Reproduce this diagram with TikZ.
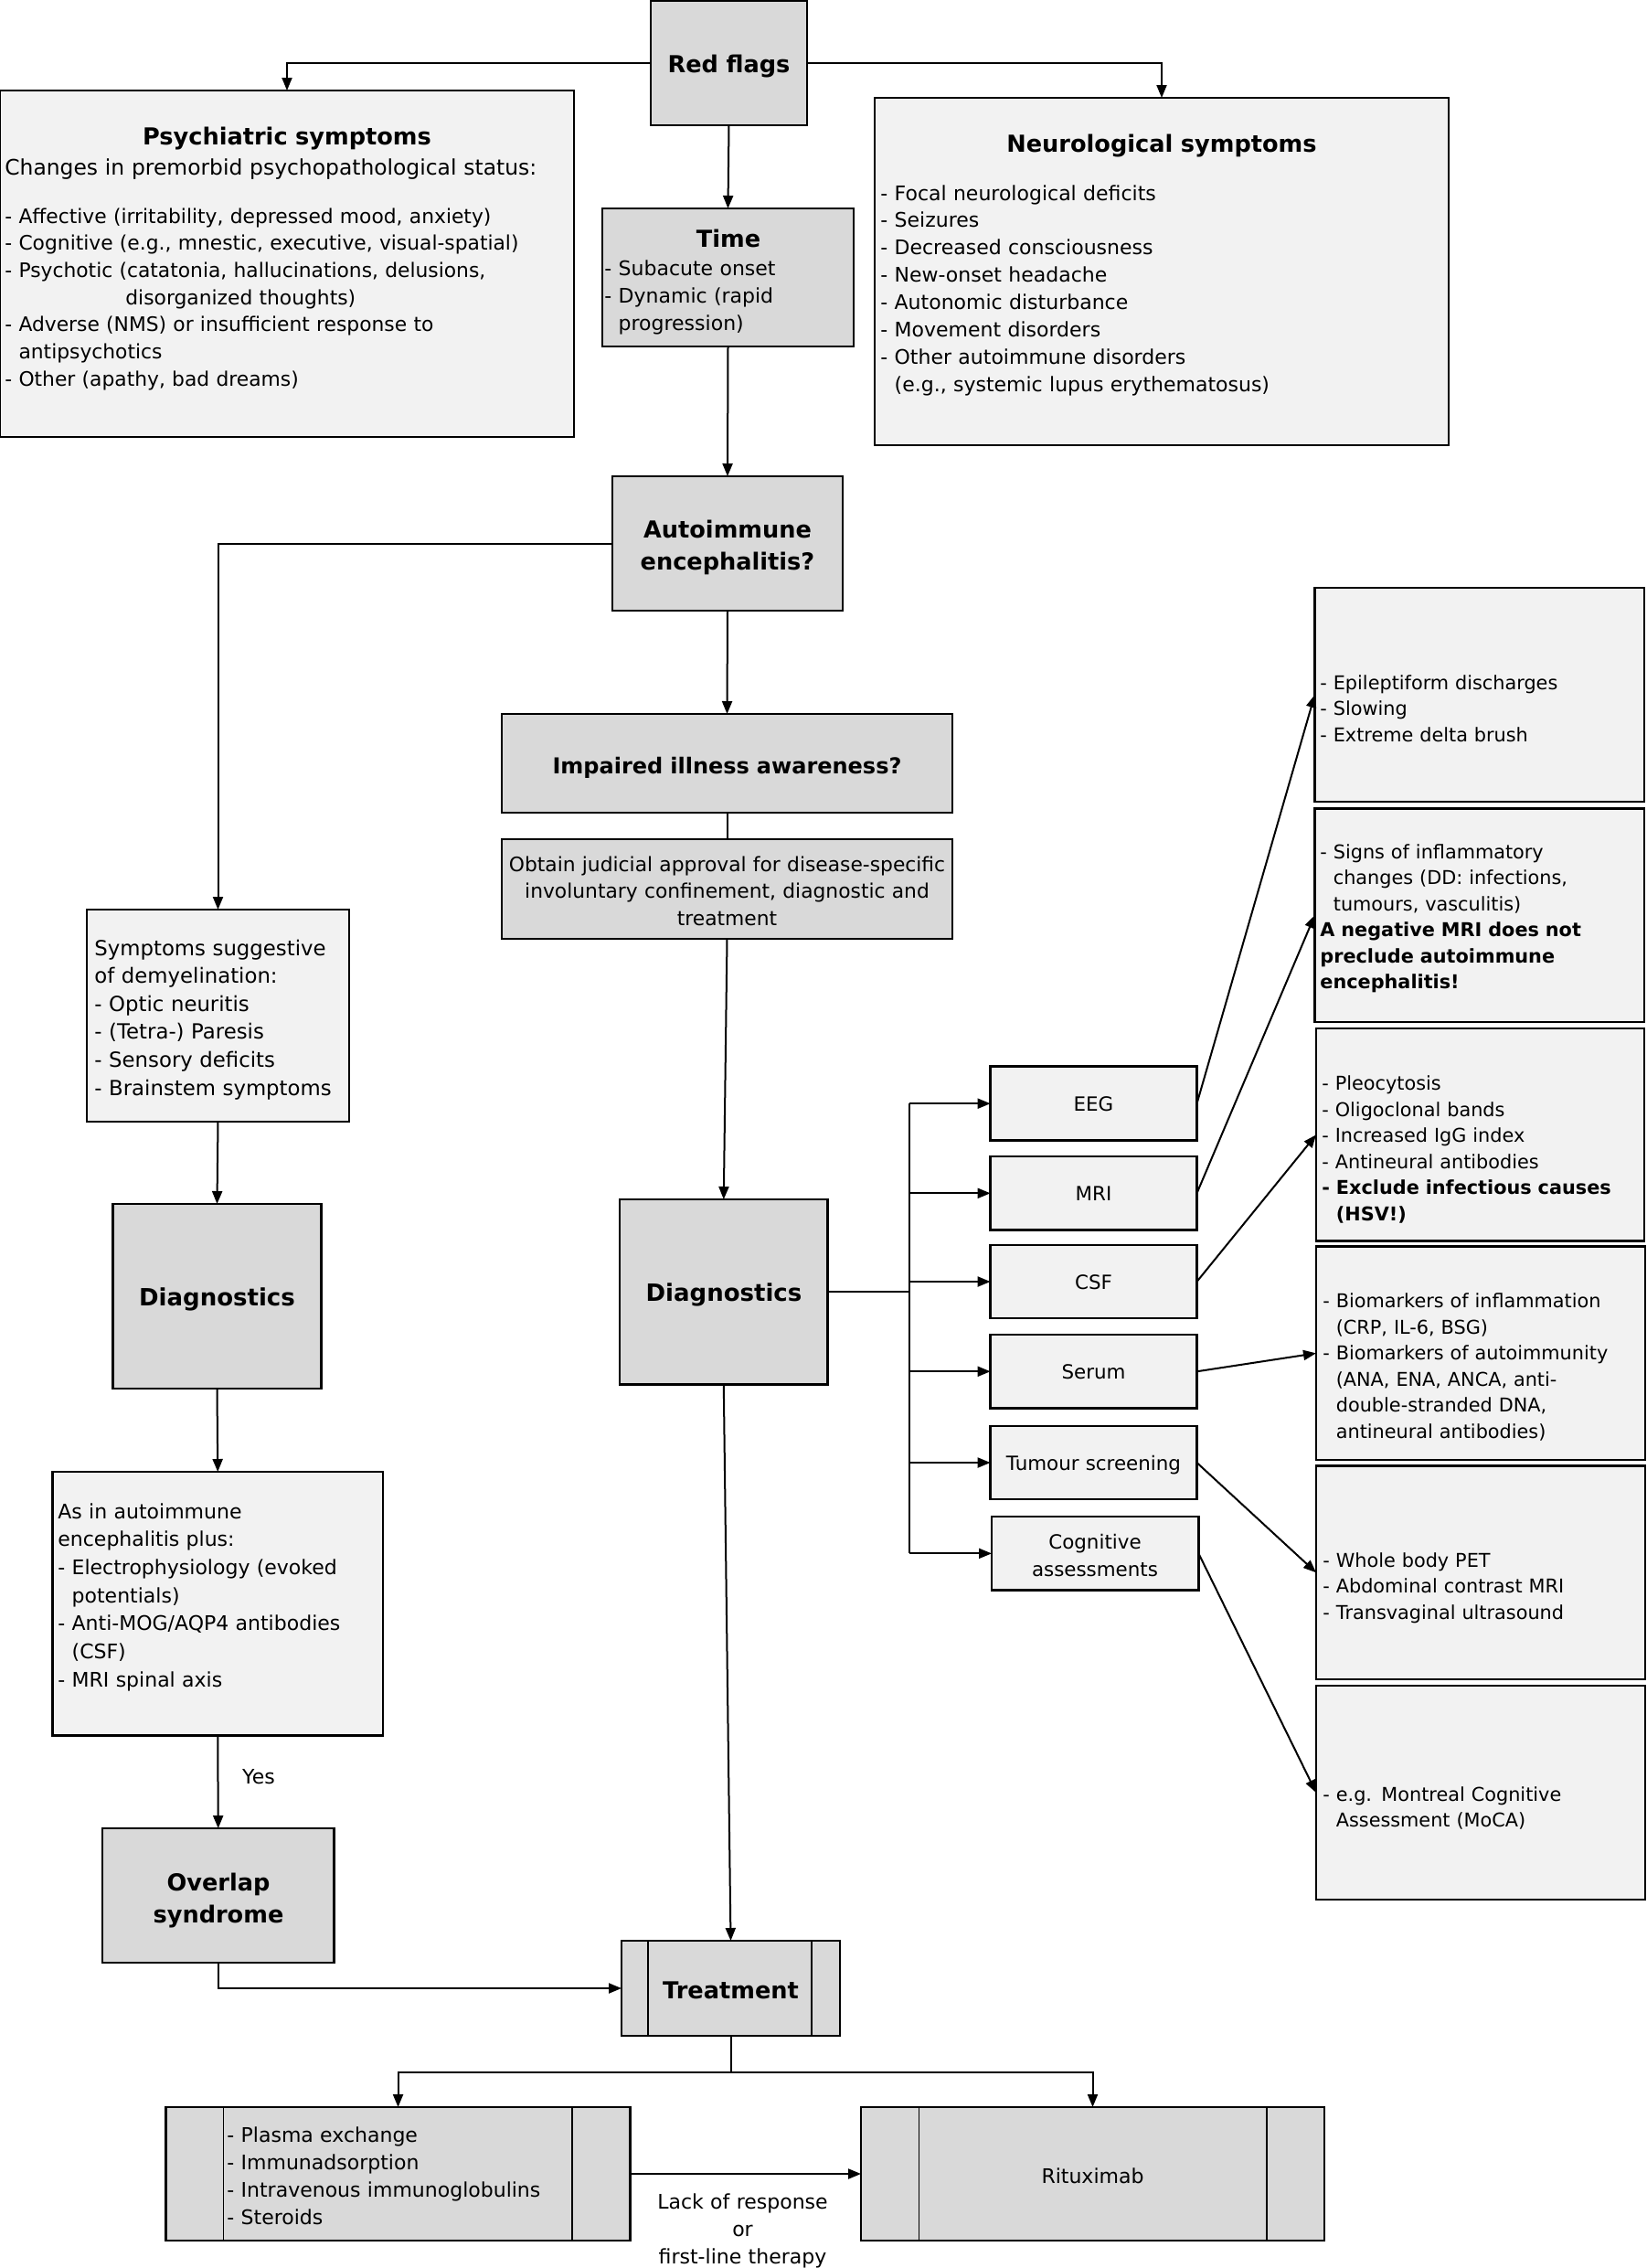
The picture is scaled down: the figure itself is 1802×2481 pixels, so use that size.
\documentclass[tikz,border=0pt]{standalone}
\usepackage{fontspec}
\setmainfont{DejaVu Sans}
\usetikzlibrary{arrows.meta,fit}
\definecolor{cDark}{HTML}{D9D9D9}
\definecolor{cLight}{HTML}{F2F2F2}
\newcommand\dashind{\phantom{- }}
\begin{document}
\begin{tikzpicture}[x=0.5pt,y=-0.5pt,
 bx/.style={draw,line width=1.25pt,inner sep=0pt,outer sep=0pt},
 dkbox/.style={bx,fill=cDark},
 ltbox/.style={bx,fill=cLight},
 con/.style={line width=1pt},
 arr/.style={con,-{Triangle[length=7pt,width=5.5pt]}},
 tleft/.style={anchor=base west,inner sep=0pt,align=left,text width=#1},
 tcent/.style={anchor=base,inner sep=0pt,align=center,text width=#1},
 fTitle/.style={font=\fontsize{12.8}{17.5}\selectfont\bfseries},
 fDiag/.style={font=\fontsize{13}{17}\selectfont\bfseries},
 fMid/.style={font=\fontsize{11}{14.95}\selectfont},
 fTest/.style={font=\fontsize{10.7}{15}\selectfont},
 fRight/.style={font=\fontsize{10.4}{14.25}\selectfont},
 pp/.style={line width=0.6pt}
]
\useasboundingbox (0,0) rectangle (1802,2481);
\fill[white] (0,0) rectangle (1802,2481);

% ---------- boxes ----------
\node[dkbox,fit={(712,1)(883,137)}] (rf) {};
\node[ltbox,fit={(0,99)(628,478)}] (ps) {};
\node[ltbox,fit={(957,107)(1585,487)}] (ne) {};
\node[dkbox,fit={(659,228)(934,379)}] (ti) {};
\node[dkbox,fit={(670,521)(922,668)}] (ai) {};
\node[dkbox,fit={(549,781)(1042,889)}] (im) {};
\node[dkbox,fit={(549,918)(1042,1027)}] (ob) {};
\node[ltbox,fit={(95,995)(382,1227)}] (sy) {};
\node[dkbox,fit={(123.5,1317)(351.5,1519)}] (d1) {};
\node[ltbox,fit={(57.5,1610)(419,1898.5)}] (as) {};
\node[dkbox,fit={(112,2000)(365.5,2147)}] (ov) {};
\node[dkbox,fit={(678,1312)(905.6,1514.6)}] (d2) {};
\node[dkbox,fit={(680,2123)(919,2227)}] (tr) {};
\node[dkbox,fit={(181.6,2305)(689.5,2451)}] (bl) {};
\node[dkbox,fit={(942,2305)(1449,2451)}] (br) {};

\node[ltbox,fit={(1083.6,1166.7)(1309.5,1247.7)}] (eeg) {};
\node[ltbox,fit={(1083.6,1265)(1309.5,1345.6)}] (mri) {};
\node[ltbox,fit={(1083.6,1362)(1309.5,1442)}] (csf) {};
\node[ltbox,fit={(1083.6,1460)(1309.5,1540.5)}] (ser) {};
\node[ltbox,fit={(1083.6,1560)(1309.5,1640)}] (tum) {};
\node[ltbox,fit={(1085,1659)(1311.4,1739.7)}] (cog) {};

\node[ltbox,fit={(1438.5,643)(1799,877)}] (r1) {};
\node[ltbox,fit={(1438.5,884.6)(1799,1117.8)}] (r2) {};
\node[ltbox,fit={(1440,1125)(1799,1357.7)}] (r3) {};
\node[ltbox,fit={(1440,1363.6)(1800,1597)}] (r4) {};
\node[ltbox,fit={(1440,1603.5)(1800,1837)}] (r5) {};
\node[ltbox,fit={(1440,1844)(1800,2078)}] (r6) {};

% predefined-process side bars
\draw[pp] ([xshift=14.5pt]tr.north west) -- ([xshift=14.5pt]tr.south west);
\draw[pp] ([xshift=-15.5pt]tr.north east) -- ([xshift=-15.5pt]tr.south east);
\draw[pp] ([xshift=31.6pt]bl.north west) -- ([xshift=31.6pt]bl.south west);
\draw[pp] ([xshift=-31.75pt]bl.north east) -- ([xshift=-31.75pt]bl.south east);
\draw[pp] ([xshift=31.75pt]br.north west) -- ([xshift=31.75pt]br.south west);
\draw[pp] ([xshift=-31.5pt]br.north east) -- ([xshift=-31.5pt]br.south east);

% ---------- texts in dark boxes ----------
\node[tcent=150pt,fTitle] (rft) at (797.5,79) {Red flags};
\node[tcent=150pt,fTitle] (ait) at (796,588) {Autoimmune\\encephalitis?};
\node[tcent=240pt,font=\fontsize{12}{15}\selectfont\bfseries] (imt) at (795.5,846) {Impaired illness awareness?};
\node[tcent=245pt,font=\fontsize{10.9}{14.75}\selectfont] (obt) at (795.5,953) {Obtain judicial approval for disease-specific\\involuntary confinement, diagnostic and\\treatment};
\node[tcent=110pt,fDiag] (d1t) at (237.5,1428) {Diagnostics};
\node[tcent=110pt,fDiag] (d2t) at (792,1423) {Diagnostics};
\node[tcent=120pt,fTitle] (ovt) at (239,2068) {Overlap\\syndrome};
\node[tcent=110pt,fTitle] (trt) at (799.5,2186) {Treatment};
\node[tcent=150pt,fMid] (brt) at (1195.5,2388) {Rituximab};

% ---------- texts in test boxes ----------
\node[tcent=110pt,fTest] (eegt) at (1196.5,1215) {EEG};
\node[tcent=110pt,fTest] (mrit) at (1196.5,1313) {MRI};
\node[tcent=110pt,fTest] (csft) at (1196.5,1410) {CSF};
\node[tcent=110pt,fTest] (sert) at (1196.5,1508) {Serum};
\node[tcent=110pt,fTest] (tumt) at (1196.5,1608) {Tumour screening};
\node[tcent=110pt,fTest] (cogt) at (1198,1694) {Cognitive\\assessments};

% ---------- other texts ----------
\node[tcent=300pt,fTitle] (pst) at (314,158) {Psychiatric symptoms};
\node[tleft=320pt,font=\fontsize{11.7}{15.3}\selectfont] (psa) at (5,191) {Changes in premorbid psychopathological status:};
\node[tleft=320pt,font=\fontsize{10.9}{14.85}\selectfont] (psb) at (5,244) {- Affective (irritability, depressed mood, anxiety)\\- Cognitive (e.g., mnestic, executive, visual-spatial)\\- Psychotic (catatonia, hallucinations, delusions,\\\hspace*{66pt}disorganized thoughts)\\- Adverse (NMS) or insufficient response to\\\dashind antipsychotics\\- Other (apathy, bad dreams)};

\node[tcent=300pt,fTitle] (net) at (1271,166) {Neurological symptoms};
\node[tleft=320pt,font=\fontsize{11}{14.93}\selectfont] (neb) at (963,219) {- Focal neurological deficits\\- Seizures\\- Decreased consciousness\\- New-onset headache\\- Autonomic disturbance\\- Movement disorders\\- Other autoimmune disorders\\\dashind(e.g., systemic lupus erythematosus)};

\node[tcent=100pt,fTitle] (tit) at (797,270) {Time};
\node[tleft=150pt,font=\fontsize{11}{14.9}\selectfont] (tib) at (661,301.7) {- Subacute onset\\- Dynamic (rapid\\\dashind progression)};

\node[tleft=160pt,font=\fontsize{11.4}{15.3}\selectfont] (syb) at (103,1045) {Symptoms suggestive\\of demyelination:\\- Optic neuritis\\- (Tetra-) Paresis\\- Sensory deficits\\- Brainstem symptoms};

\node[tleft=200pt,font=\fontsize{11}{15.35}\selectfont] (asb) at (63,1661) {As in autoimmune\\encephalitis plus:\\- Electrophysiology (evoked\\\dashind potentials)\\- Anti-MOG/AQP4 antibodies\\\dashind(CSF)\\- MRI spinal axis};

\node[anchor=base,inner sep=0pt,fMid] (yes) at (283,1951) {Yes};

\node[tleft=200pt,fRight] (r1t) at (1444,754) {- Epileptiform discharges\\- Slowing\\- Extreme delta brush};
\node[tleft=200pt,fRight] (r2t) at (1444,939) {- Signs of inflammatory\\\dashind changes (DD: infections,\\\dashind tumours, vasculitis)\\\textbf{A negative MRI does not}\\\textbf{preclude autoimmune}\\\textbf{encephalitis!}};
\node[tleft=200pt,fRight] (r3t) at (1446,1192.7) {- Pleocytosis\\- Oligoclonal bands\\- Increased IgG index\\- Antineural antibodies\\\textbf{- Exclude infectious causes}\\\textbf{\dashind(HSV!)}};
\node[tleft=200pt,fRight] (r4t) at (1447,1430.7) {- Biomarkers of inflammation\\\dashind(CRP, IL-6, BSG)\\- Biomarkers of autoimmunity\\\dashind(ANA, ENA, ANCA, anti-\\\dashind double-stranded DNA,\\\dashind antineural antibodies)};
\node[tleft=200pt,fRight] (r5t) at (1447,1714) {- Whole body PET\\- Abdominal contrast MRI\\- Transvaginal ultrasound};
\node[tleft=200pt,fRight] (r6t) at (1447,1970) {- e.g. Montreal Cognitive\\\dashind Assessment (MoCA)};

\node[tleft=200pt,font=\fontsize{11}{15}\selectfont] (blt) at (248,2343) {- Plasma exchange\\- Immunadsorption\\- Intravenous immunoglobulins\\- Steroids};
\node[tcent=120pt,font=\fontsize{11}{15}\selectfont] (lab) at (812.5,2416) {Lack of response\\or\\first-line therapy};

% ---------- connectors ----------
\draw[arr] (rf.west) -| (ps.north);
\draw[arr] (rf.east) -| (ne.north);
\draw[arr] (rf.south) -- (ti.north);
\draw[arr] (ti.south) -- (ai.north);
\draw[arr] (ai.west) -| (sy.north);
\draw[arr] (ai.south) -- (im.north);
\draw[con] (im.south) -- (ob.north);
\draw[arr] (ob.south) -- (d2.north);
\draw[arr] (d2.south) -- (tr.north);
\draw[arr] (sy.south) -- (d1.north);
\draw[arr] (d1.south) -- (as.north);
\draw[arr] (as.south) -- (ov.north);
\draw[arr] (ov.south) |- (tr.west);

\coordinate (bus) at (995,0);
\draw[con] (d2.east) -- (d2.east -| bus);
\draw[con] (eeg.west -| bus) -- (cog.west -| bus);
\foreach \n in {eeg,mri,csf,ser,tum,cog}{
  \draw[arr] (\n.west -| bus) -- (\n.west);
}
\draw[arr] (eeg.east) -- (r1.west);
\draw[arr] (mri.east) -- (r2.west);
\draw[arr] (csf.east) -- (r3.west);
\draw[arr] (ser.east) -- (r4.west);
\draw[arr] (tum.east) -- (r5.west);
\draw[arr] (cog.east) -- (r6.west);

\coordinate (split) at (0,2266.7);
\draw[con] (tr.south) -- (tr.south |- split);
\draw[arr] (tr.south |- split) -| (bl.north);
\draw[arr] (tr.south |- split) -| (br.north);
\draw[arr] (bl.east) -- (br.west);
\end{tikzpicture}
\end{document}
